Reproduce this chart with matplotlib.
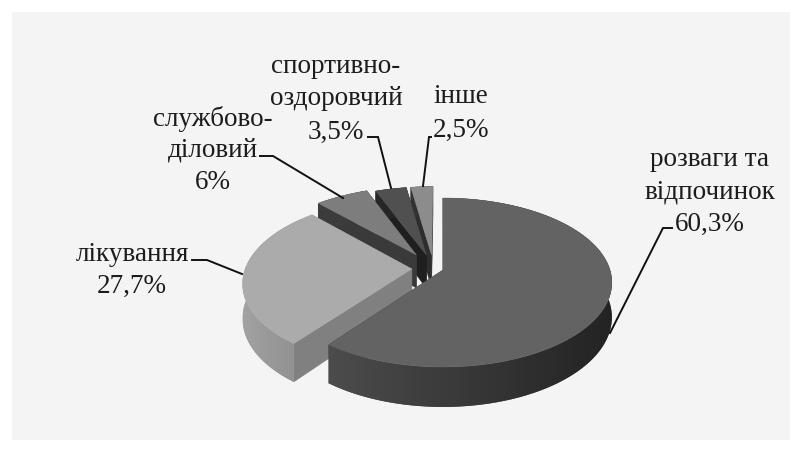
import numpy as np
import matplotlib
matplotlib.use("Agg")
import matplotlib.pyplot as plt
from matplotlib.patches import Polygon, Rectangle
from matplotlib.colors import LinearSegmentedColormap

# ---- data ----
categories = ["розваги та відпочинок", "лікування", "службово-діловий",
              "спортивно-оздоровчий", "інше"]
values = [60.3, 27.7, 6.0, 3.5, 2.5]
value_labels = ["60,3%", "27,7%", "6%", "3,5%", "2,5%"]
label_lines = [["розваги та", "відпочинок"], ["лікування"], ["службово-", "діловий"],
               ["спортивно-", "оздоровчий"], ["інше"]]
explode = [0.06, 0.13, 0.20, 0.17, 0.17]

# ---- style ----
top_cols = ["#636363", "#ababab", "#7d7d7d", "#505050", "#8c8c8c"]
side_cols = [("#4c4c4c", "#232323"), ("#a2a2a2", "#8f8f8f"), ("#3c3c3c", "#3c3c3c"),
             ("#262626", "#262626"), ("#333333", "#333333")]
face_cols = ["#3a3a3a", "#808080", "#3a3a3a", "#1f1f1f", "#2e2e2e"]
label_x = [710, 132, 213, 336, 461]
label_base = [[166, 198, 231], [261, 293], [126, 156, 189], [73, 105, 139], [103, 137]]
leaders = [[(672, 228), (663, 228), (610, 333)],
           [(192, 260), (207, 260), (242, 274)],
           [(260, 156), (273, 156), (343, 198)],
           [(368, 137), (378, 137), (391, 188)],
           [(431, 137), (429, 137), (423, 186)]]
APEX_X, APEX_Y, RX, RY, K, DEPTH = 443.0, 270.0, 167.0, 82.65, 0.148, 34.0
CENTER = (-0.057, 0.019)   # pie centre relative to the apex of the first slice

fig = plt.figure(figsize=(8.02, 4.51), dpi=100, facecolor="#ffffff")
ax = fig.add_axes([0, 0, 1, 1])
ax.axis("off")
ax.add_patch(Rectangle((12, 12), 778, 428, fc="#f4f4f4", ec="none", zorder=0))


def project(x, y, drop=0.0):
    w = 1 + K * y
    return APEX_X + RX * x / w, APEX_Y - RY * y / w + DEPTH * drop / w


fr = np.cumsum([0] + values) / sum(values) * 2 * np.pi
order = [4, 3, 2, 1, 0]
z = 1
for i in order:
    a0, a1 = fr[i], fr[i + 1]
    mid = (a0 + a1) / 2
    ox = CENTER[0] + explode[i] * np.sin(mid)
    oy = CENTER[1] + explode[i] * np.cos(mid)
    th = np.linspace(a0, a1, max(int((a1 - a0) * 60), 8))
    xs = ox + np.sin(th)
    ys = oy + np.cos(th)
    # radial faces
    for a in (a0, a1):
        ex, ey = ox + np.sin(a), oy + np.cos(a)
        P = [project(ox, oy), project(ex, ey), project(ex, ey, 1), project(ox, oy, 1)]
        ax.add_patch(Polygon(P, fc=face_cols[i], ec=face_cols[i], lw=0.3, zorder=z))
        z += 1
    # outer wall with a left-to-right shading, clipped to the wall outline
    px, py = project(xs, ys)
    qx, qy = project(xs, ys, 1)
    wall = Polygon(list(zip(px, py)) + list(zip(qx[::-1], qy[::-1])),
                   fc=side_cols[i][0], ec="none", zorder=z)
    ax.add_patch(wall)
    x0, x1 = min(px.min(), qx.min()), max(px.max(), qx.max())
    if i == 1:
        x1 = min(x1, 300)
    y0, y1 = min(py.min(), qy.min()), max(py.max(), qy.max())
    cmap = LinearSegmentedColormap.from_list("w", list(side_cols[i]))
    im = ax.imshow(np.linspace(0, 1, 256)[None, :], cmap=cmap, aspect="auto",
                   extent=(x0, x1, y1, y0), zorder=z + 0.5, interpolation="bilinear")
    im.set_clip_path(wall)
    z += 1
    # top
    ax_, ay_ = project(ox, oy)
    P = [(ax_, ay_)] + list(zip(px, py))
    ax.add_patch(Polygon(P, fc=top_cols[i], ec=top_cols[i], lw=0.3, zorder=z))
    z += 1

for seg in leaders:
    ax.plot([p[0] for p in seg], [p[1] for p in seg], color="#111111", lw=1.4, zorder=50,
            solid_joinstyle="miter")

for i in range(len(categories)):
    lines = label_lines[i] + [value_labels[i]]
    for txt, yb in zip(lines, label_base[i]):
        ax.text(label_x[i], yb, txt, ha="center", va="baseline", color="#1c1c1c",
                family="Liberation Serif", fontsize=19.5, zorder=60)

ax.set_xlim(0, 802)
ax.set_ylim(451, 0)
fig.savefig("out.png", dpi=100, facecolor=fig.get_facecolor())
